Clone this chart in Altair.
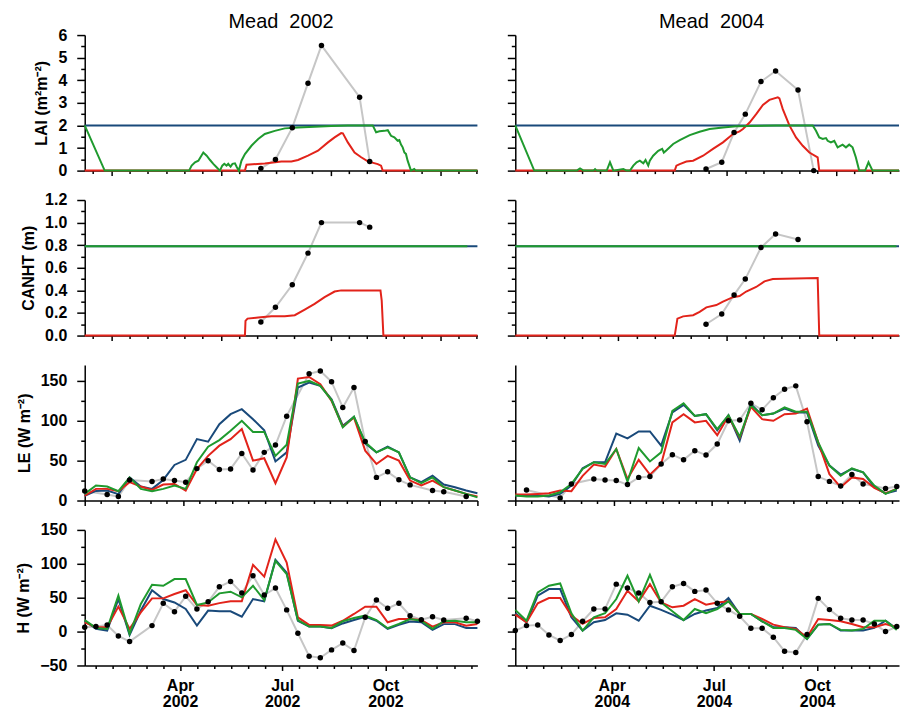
import altair as alt
import pandas as pd

FONT = "Liberation Sans"
BLUE = "#19497a"
RED = "#e2231a"
GREEN = "#1f9a2e"
GRAY = "#c6c6c6"

# ---------------- data ----------------
DEKAD_DAY = [5, 15, 25, 35, 45, 55, 65, 75, 85, 95, 105, 115, 125, 135, 145, 155, 165, 175,
             185, 195, 205, 215, 225, 235, 245, 255, 265, 275, 285, 295, 305, 315, 325, 335, 345, 355]

PANEL_TITLES = {"2002": "Mead \u00a02002", "2004": "Mead \u00a02004"}

# LAI 2002
LAI_BLUE_2002_DAY = [5, 355]
LAI_BLUE_2002 = [2.0, 2.0]
LAI_GREEN_2002_DAY = [5, 22.8, 98.0, 100.3, 103.3, 106.3, 110.7, 113.7, 116.7, 119.6, 122.5, 125.5, 127.6,
                      129.4, 131.4, 132.9, 135.0, 136.7, 138.9, 140.6, 142.4, 144.7, 147.8, 153.6, 159.6,
                      165.5, 174.4, 183.3, 195.1, 209.9, 224.7, 239.5, 261.7, 264.7, 267.7, 272.1, 275.1,
                      278.0, 281.0, 283.9, 285.4, 286.9, 288.4, 289.9, 291.3, 292.8, 295.8, 298.7, 300.2, 355]
LAI_GREEN_2002 = [2.0, 0, 0, 0.22, 0.37, 0.44, 0.80, 0.66, 0.47, 0.30, 0.15, 0, 0.22, 0.30, 0.22, 0.30,
                  0.18, 0.30, 0.32, 0.15, 0, 0.44, 0.73, 1.10, 1.40, 1.62, 1.76, 1.87, 1.91, 1.94, 1.97,
                  2.0, 2.0, 1.70, 1.74, 1.76, 1.79, 1.54, 1.47, 1.32, 1.35, 1.15, 1.03, 0.80, 0.74, 0.44,
                  0, 0.07, 0, 0]
LAI_RED_2002_DAY = [5, 147.8, 149.2, 165.5, 180.3, 189.2, 195.1, 204.0, 212.9, 221.8, 227.7, 233.6, 235.1,
                    239.5, 245.5, 251.4, 257.3, 266.2, 269.1, 270.6, 355]
LAI_RED_2002 = [0, 0, 0.26, 0.32, 0.40, 0.40, 0.47, 0.66, 0.88, 1.25, 1.47, 1.66, 1.65, 1.25, 0.80, 0.59,
                0.41, 0.29, 0.22, 0, 0]
OBS_2002_DAY = [162, 175, 190, 204, 216, 250, 259]
LAI_OBS_2002 = [0.1, 0.49, 1.9, 3.87, 5.54, 3.25, 0.4]

# LAI 2004
LAI_BLUE_2004_DAY = [5, 347]
LAI_BLUE_2004 = [2.0, 2.0]
LAI_GREEN_2004_DAY = [5, 21.9, 59.8, 62.7, 65.8, 74.6, 76.1, 77.6, 86.5, 89.4, 92.4, 101.3, 104.2, 107.2,
                      110.2, 113.1, 116.0, 119.1, 121.1, 123.5, 124.9, 127.9, 132.4, 135.9, 137.4, 139.8,
                      145.7, 151.6, 160.5, 169.3, 178.2, 190.1, 201.9, 213.8, 237.5, 270.1, 273.0, 275.9,
                      279.0, 281.9, 283.4, 286.3, 289.3, 292.3, 296.7, 299.7, 302.6, 305.6, 308.5, 311.5,
                      316.8, 319.8, 323.4, 347]
LAI_GREEN_2004 = [2.0, 0, 0, 0.10, 0, 0, 0.07, 0, 0, 0.37, 0, 0.07, 0, 0, 0.22, 0.37, 0.44, 0.32, 0.47,
                  0.22, 0.44, 0.66, 0.88, 0.96, 0.80, 0.90, 1.18, 1.35, 1.57, 1.72, 1.84, 1.91, 1.96, 1.97,
                  2.0, 2.0, 1.76, 1.47, 1.40, 1.44, 1.32, 1.25, 1.32, 1.03, 1.15, 1.03, 1.15, 1.03, 0.59,
                  0, 0, 0.37, 0, 0]
LAI_RED_2004_DAY = [5, 147.1, 148.6, 151.6, 157.5, 163.5, 172.4, 181.2, 190.1, 199.0, 204.9, 207.9, 213.8,
                    219.7, 225.7, 231.5, 239.0, 240.4, 243.4, 249.3, 255.2, 261.2, 267.1, 274.5, 275.9, 347]
LAI_RED_2004 = [0, 0, 0.22, 0.29, 0.40, 0.44, 0.66, 0.96, 1.25, 1.62, 1.74, 1.84, 2.13, 2.50, 2.91, 3.13,
                3.24, 3.20, 2.72, 2.0, 1.47, 1.10, 0.80, 0.59, 0, 0]
OBS_2004_DAY = [175, 189, 200, 210, 224, 237, 257, 271]
LAI_OBS_2004 = [0.07, 0.37, 1.69, 2.5, 3.94, 4.41, 3.57, 0.0]

# CANHT
CANHT_BLUE_2002_DAY = [5, 355]
CANHT_BLUE_2002 = [0.79, 0.79]
CANHT_GREEN_2002_DAY = [5, 346]
CANHT_GREEN_2002 = [0.79, 0.79]
CANHT_RED_2002_DAY = [5, 147.8, 148.3, 150.1, 159.6, 171.4, 183.3, 192.2, 201.1, 209.9, 218.8, 227.7,
                      233.6, 268.6, 269.7, 271.2, 355]
CANHT_RED_2002 = [0, 0, 0.13, 0.15, 0.16, 0.17, 0.17, 0.18, 0.23, 0.28, 0.34, 0.39, 0.40, 0.40, 0.31, 0, 0]
CANHT_OBS_2002 = [0.12, 0.25, 0.45, 0.73, 1.0, 1.0, 0.96]

CANHT_BLUE_2004_DAY = [5, 347]
CANHT_BLUE_2004 = [0.79, 0.79]
CANHT_GREEN_2004_DAY = [5, 344.7]
CANHT_GREEN_2004 = [0.79, 0.79]
CANHT_RED_2004_DAY = [5, 147.1, 149.5, 154.6, 163.5, 169.3, 175.3, 184.2, 190.1, 199.0, 204.9, 210.8,
                      219.7, 227.1, 234.5, 274.5, 275.9, 347]
CANHT_RED_2004 = [0, 0, 0.15, 0.17, 0.18, 0.21, 0.25, 0.27, 0.30, 0.34, 0.35, 0.39, 0.43, 0.48, 0.50,
                  0.51, 0, 0]
CANHT_OBS_2004 = [0.10, 0.19, 0.36, 0.50, 0.78, 0.90, 0.85, None]

# LE (dekadal)
LE_BLUE_2002 = [6, 12, 12.5, 8, 29, 17.5, 14.6, 25.8, 44.6, 51, 77, 73.8, 95.8, 108.3, 114.6, 102, 88, 49,
                60.4, 141.7, 148, 143.8, 127, 93.8, 105, 71.7, 60.4, 67.5, 60.4, 29, 23, 31, 20, 16.7, 12.5, 9]
LE_RED_2002 = [6, 14.6, 14.6, 11.7, 23, 17.5, 13.3, 20, 20.8, 12.5, 39.6, 56, 68.8, 77, 89.6, 50, 53, 21.7,
               54, 153, 155, 146, 125, 92.5, 104, 62.5, 45.8, 56, 50, 25, 18.8, 25, 16.7, 12.5, 8.3, 5]
LE_GREEN_2002 = [8.3, 18.8, 17.5, 11.7, 29, 14.6, 11.7, 14.6, 18.8, 14.6, 48, 67.5, 75.8, 87.5, 100, 86, 86,
                 56, 70, 146.7, 150, 143.8, 126, 91.7, 105, 73, 60.4, 66.7, 60.4, 29, 21.7, 29, 16.7, 12.5, 8.3, 4]
LE_OBS_2002 = [12, None, 7.5, 5, 25.8, None, 23.8, 27, 25, 23, 40, 50, 38.8, 39.6, 59, 38.3, 60.4, 69.6,
               105.8, None, 159, 162.5, 149, 116.7, 141.7, 74, 29, 36, 26, 19.6, None, 12.5, 11, None, 5, None]

LE_BLUE_2004 = [6.3, 6.3, 6.3, 5, 8.3, 18.8, 40.4, 48, 48, 84, 78, 86.7, 86.7, 68.8, 110.4, 120, 106, 108.3,
                88, 107, 75, 120.8, 107, 109, 115.4, 110.4, 110.4, 68.8, 43.8, 32.5, 39.6, 35.4, 16.7, 9, 12.5, None]
LE_RED_2004 = [7.5, 7.5, 8.3, 9.2, 12.5, 11.7, 31, 45, 42.5, 64.6, 27, 51, 32.5, 45.8, 98, 108.3, 98, 100,
               82, 106, 79, 117.5, 102, 100, 108.3, 109, 115.4, 73, 33, 16.7, 29, 27, 15.8, 9.2, 14.6, None]
LE_GREEN_2004 = [6.3, 5, 5, 6.3, 10.4, 20.8, 39.6, 48, 45.8, 64.6, 23.8, 65.8, 49, 60.4, 112.5, 122, 106,
                 108.3, 89.6, 107, 80, 119.6, 107, 109, 116.7, 111.3, 111.3, 73, 43.8, 31, 40.4, 35.4, 18.8,
                 8.3, 14.6, None]
LE_OBS_2004 = [None, 13.3, None, None, 3.3, 20.8, None, 27, 25.8, 25, 20, 29, 30, 45.8, 57.5, 51, 62.5, 57,
               70.8, 100, 101, 122, 113.8, 129, 139.6, 143.8, 98.8, 30, 24, 18.3, 32.5, 20.8, None, 15, 17.5, None]

# H (dekadal)
H_BLUE_2002 = [16, 4, 1.5, 48, -5, 31, 61, 48, 43, 33.3, 8.8, 31, 30, 30, 22, 48, 44.6, 106, 87, 16, 7.4,
               7.4, 5, 12, 17, 22, 16, 4, 10, 14.7, 13.7, 2.5, 11, 11, 5.4, 5.4]
H_RED_2002 = [13.7, 6.4, 6.4, 36.8, 4, 28.4, 49, 49, 55.4, 61, 39.2, 38.2, 42, 44.6, 44.6, 98.5, 81, 136,
              102, 21, 9.8, 9.8, 8.8, 16, 26, 36.8, 36.8, 13.7, 18.6, 18.6, 17, 7.4, 13.7, 13.7, 8.8, 11.3]
H_GREEN_2002 = [17, 5.4, 4, 53, -3.4, 40.7, 69, 67.6, 77.5, 77.5, 39.2, 43, 56.4, 58.8, 50.5, 67.6, 46.6,
                104.4, 84.8, 17, 7.4, 7.4, 5.4, 15.2, 20, 23.5, 17, 5, 11.3, 18.6, 16, 4, 15.2, 16, 13.7, 13.7]
H_OBS_2002 = [6.4, 7.4, 9.8, -6.4, -14.7, None, 8.8, 41.7, 29.4, 52, 33.3, 44, 66, 74, 57, 82.4, 54, 64.2,
              32, -2.5, -36.3, -38.7, -27, -17, -28, 21, 46.6, 34.3, 41.7, 23.5, 17.6, 22, 17, None, 19.6, 15.2]

H_BLUE_2004 = [27, 13.7, 53, 62.7, 62.7, 21, 1.5, 13.7, 17, 27, 25, 16, 38.2, 32, 25, 17, 26, 31, 34.8,
               49.5, 26, 26, 15.2, 6.4, 6.4, 5.4, -10.8, 10.3, 11.3, 1.5, 1.5, 1.5, 5.4, 16, 4, None]
H_RED_2004 = [25, 13.7, 41.7, 49.5, 49.5, 23.5, 11.3, 20, 21, 33.3, 60.3, 44.6, 70, 43, 35.8, 38.2, 48,
              39.7, 43, 44.6, 26, 26, 18.6, 10.3, 6.4, 4, -8.3, 18.6, 17, 15.2, 11.3, 6.4, 6.4, 11.3, 6.4, None]
H_GREEN_2004 = [32, 16, 57.8, 67.6, 71, 27, 1.5, 21, 27, 48, 82.4, 44.6, 83.8, 43, 30, 17, 33.3, 27, 33.3,
                44.6, 26, 26, 15.2, 5.4, 5.4, 2.5, -10.8, 10.3, 11.3, 2.5, 1.5, 4, 16, 16, 2.5, None]
H_OBS_2004 = [1.5, 8.8, 9.8, -5, -13.2, -4.4, 15.2, 33.3, 33.3, 70, 64.2, 57, 43, 44, 66, 71, 59.3, 61.3,
              41.7, 32, 22.5, 4.9, 4.9, -8.3, -29, -31, -4.4, 49, 32.4, 19.6, 17, 17, 11.3, 0, 7.4, None]

# ---------------- axes (tick positions) ----------------
X_DOMAIN = {"2002": [5, 355], "2004": [5, 347]}

VEG_TICKS = {
    "2002": [12.4, 28.7, 45.0, 61.3, 77.6, 93.9, 110.1, 126.4, 142.7, 159.0, 175.3, 191.6, 207.9, 224.2,
             240.5, 256.8, 273.0, 289.3, 305.6, 321.9, 338.2, 354.5],
    "2004": [16.1, 32.3, 48.4, 64.6, 80.7, 96.9, 113.0, 129.1, 145.3, 161.4, 177.6, 193.7, 209.9, 226.1,
             242.2, 258.4, 274.6, 290.8, 306.9, 323.1, 339.3],
}
VEG_MAJOR = {"2002": [28.7, 126.4, 224.2, 321.9], "2004": [96.9, 193.7, 290.8]}

LE_TICKS = [5, 19.6, 34.2, 48.8, 63.3, 77.9, 92.5, 107.1, 121.7, 136.3, 150.8, 165.4, 180, 194.6, 209.2,
            223.8, 238.3, 252.9, 267.5, 282.1, 296.7, 311.3, 325.8, 340.4, 355]
LE_MAJOR = [5, 92.5, 180, 267.5, 355]

H_TICKS = {
    "2002": [15, 30, 45, 60, 75, 90, 105.2, 120.3, 135.5, 150.7, 165.8, 181, 196.3, 211.7, 227, 242.3,
             257.7, 273, 288.3, 303.7, 319, 334.3, 349.7],
    "2004": [15.2, 30.3, 45.5, 60.7, 75.8, 91, 106.2, 121.3, 136.5, 151.7, 166.8, 182, 197.3, 212.7, 228,
             243.3, 258.7, 274, 289.3, 304.7, 320, 335.3],
}
H_MAJOR = {"2002": [90, 181, 273], "2004": [91, 182, 274]}
MONTHS = ["Apr", "Jul", "Oct"]

LAI_TICKS = [0, 0.5, 1, 1.5, 2, 2.5, 3, 3.5, 4, 4.5, 5, 5.5, 6]
CANHT_TICKS = [0, 0.1, 0.2, 0.3, 0.4, 0.5, 0.6, 0.7, 0.8, 0.9, 1.0, 1.1, 1.2]
LE_YTICKS = [0, 25, 50, 75, 100, 125, 150]
H_YTICKS = [-50, -25, 0, 25, 50, 75, 100, 125, 150]

ROWS = [
    dict(name="LAI", title="LAI (m\u00b2m\u207b\u00b2)", ydom=[0, 6], yticks=LAI_TICKS,
         major="datum.value % 1 == 0", fmt="d"),
    dict(name="CANHT", title="CANHT (m)", ydom=[0, 1.2], yticks=CANHT_TICKS,
         major="round(datum.value * 10) % 2 == 0", fmt=".1f"),
    dict(name="LE", title="LE (W m\u207b\u00b2)", ydom=[0, 170], yticks=LE_YTICKS,
         major="datum.value % 50 == 0", fmt="d"),
    dict(name="H", title="H (W m\u207b\u00b2)", ydom=[-50, 150], yticks=H_YTICKS,
         major="datum.value % 50 == 0", fmt="d"),
]

SERIES = {
    ("LAI", "2002"): ([(LAI_BLUE_2002_DAY, LAI_BLUE_2002, BLUE), (LAI_RED_2002_DAY, LAI_RED_2002, RED),
                       (LAI_GREEN_2002_DAY, LAI_GREEN_2002, GREEN)], (OBS_2002_DAY, LAI_OBS_2002)),
    ("LAI", "2004"): ([(LAI_BLUE_2004_DAY, LAI_BLUE_2004, BLUE), (LAI_RED_2004_DAY, LAI_RED_2004, RED),
                       (LAI_GREEN_2004_DAY, LAI_GREEN_2004, GREEN)], (OBS_2004_DAY, LAI_OBS_2004)),
    ("CANHT", "2002"): ([(CANHT_BLUE_2002_DAY, CANHT_BLUE_2002, BLUE), (CANHT_RED_2002_DAY, CANHT_RED_2002, RED),
                         (CANHT_GREEN_2002_DAY, CANHT_GREEN_2002, GREEN)], (OBS_2002_DAY, CANHT_OBS_2002)),
    ("CANHT", "2004"): ([(CANHT_BLUE_2004_DAY, CANHT_BLUE_2004, BLUE), (CANHT_RED_2004_DAY, CANHT_RED_2004, RED),
                         (CANHT_GREEN_2004_DAY, CANHT_GREEN_2004, GREEN)], (OBS_2004_DAY, CANHT_OBS_2004)),
    ("LE", "2002"): ([(DEKAD_DAY, LE_BLUE_2002, BLUE), (DEKAD_DAY, LE_RED_2002, RED),
                      (DEKAD_DAY, LE_GREEN_2002, GREEN)], (DEKAD_DAY, LE_OBS_2002)),
    ("LE", "2004"): ([(DEKAD_DAY, LE_BLUE_2004, BLUE), (DEKAD_DAY, LE_RED_2004, RED),
                      (DEKAD_DAY, LE_GREEN_2004, GREEN)], (DEKAD_DAY, LE_OBS_2004)),
    ("H", "2002"): ([(DEKAD_DAY, H_BLUE_2002, BLUE), (DEKAD_DAY, H_RED_2002, RED),
                     (DEKAD_DAY, H_GREEN_2002, GREEN)], (DEKAD_DAY, H_OBS_2002)),
    ("H", "2004"): ([(DEKAD_DAY, H_BLUE_2004, BLUE), (DEKAD_DAY, H_RED_2004, RED),
                     (DEKAD_DAY, H_GREEN_2004, GREEN)], (DEKAD_DAY, H_OBS_2004)),
}

LABEL_FONT_SIZE = 16
LABEL_WEIGHT = "bold"


def frame(days, vals):
    keep = [(d, v) for d, v in zip(days, vals) if v is not None]
    return pd.DataFrame({"day": [k[0] for k in keep], "v": [k[1] for k in keep]})


def is_major(majors):
    return "(" + " || ".join(f"datum.value == {m}" for m in majors) + ")"


def x_axis(row, year):
    if row == "LAI" or row == "CANHT":
        vals, majors = VEG_TICKS[year], VEG_MAJOR[year]
    elif row == "LE":
        vals, majors = [t for t in LE_TICKS if t <= X_DOMAIN[year][1]], LE_MAJOR
    else:
        vals, majors = H_TICKS[year], H_MAJOR[year]
    kw = dict(values=vals, grid=False, title=None, domainColor="black", domainWidth=1.5,
              tickColor="black", tickWidth=1.5,
              tickSize={"condition": {"test": is_major(majors), "value": 5}, "value": 3},
              labelFlush=False, labelOverlap=False)
    if row == "H":
        expr = "''"
        for m, name in reversed(list(zip(majors, MONTHS))):
            expr = f"datum.value == {m} ? ['{name}', '{year}'] : {expr}"
        kw.update(labelExpr=expr, labelFont=FONT, labelFontSize=LABEL_FONT_SIZE, labelFontWeight=LABEL_WEIGHT,
                  labelColor="black", labelPadding=7, labelLineHeight=16, labelBaseline="top")
    else:
        kw.update(labels=False)
    return alt.Axis(**kw)


def y_axis(spec, show):
    kw = dict(values=spec["yticks"], grid=False, domainColor="black", domainWidth=1.5,
              tickColor="black", tickWidth=1.5,
              tickSize={"condition": {"test": spec["major"], "value": 8}, "value": 4},
              labelFlush=False, labelOverlap=False)
    if show:
        kw.update(title=spec["title"], titleFont=FONT, titleFontSize=LABEL_FONT_SIZE, titleFontWeight=LABEL_WEIGHT,
                  titleColor="black", titlePadding=8,
                  labelExpr=f"{spec['major']} ? format(datum.value, '{spec['fmt']}') : ''",
                  labelFont=FONT, labelFontSize=LABEL_FONT_SIZE, labelFontWeight=LABEL_WEIGHT,
                  labelColor="black", labelPadding=10)
    else:
        kw.update(title=None, labels=False)
    return alt.Axis(**kw)


def panel(spec, year, left):
    models, obs = SERIES[(spec["name"], year)]
    width = 394 if left else 385
    x = alt.X("day:Q", scale=alt.Scale(domain=X_DOMAIN[year], nice=False, zero=False),
              axis=x_axis(spec["name"], year))
    y = alt.Y("v:Q", scale=alt.Scale(domain=spec["ydom"], nice=False, zero=False), axis=y_axis(spec, left))
    odf = frame(*obs)
    layers = [alt.Chart(odf).mark_line(color=GRAY, strokeWidth=2).encode(x=x, y=y)]
    for days, vals, color in models:
        layers.append(alt.Chart(frame(days, vals)).mark_line(color=color, strokeWidth=2).encode(x=x, y=y))
    layers.append(alt.Chart(odf).mark_circle(color="black", opacity=1, size=30).encode(x=x, y=y))
    if spec["name"] == "LAI":
        tdf = pd.DataFrame({"label": [PANEL_TITLES[year]]})
        layers.append(
            alt.Chart(tdf).mark_text(font=FONT, fontSize=20, color="black", align="center",
                                     baseline="alphabetic").encode(
                text="label:N",
                x=alt.value(197),
                y=alt.value(-7),
            )
        )
    return alt.layer(*layers).properties(width=width, height=136)


charts = []
for spec in ROWS:
    charts.append(panel(spec, "2002", True))
    charts.append(panel(spec, "2004", False))

chart = alt.concat(*charts, columns=2, spacing={"row": 29.5, "column": 38}, bounds="flush",
                   align="each").properties(
    padding={"left": 15, "top": 11, "right": 0, "bottom": 0}
).configure_view(stroke=None)

chart.save("out.html", embed_options={"renderer": "svg", "actions": False})
